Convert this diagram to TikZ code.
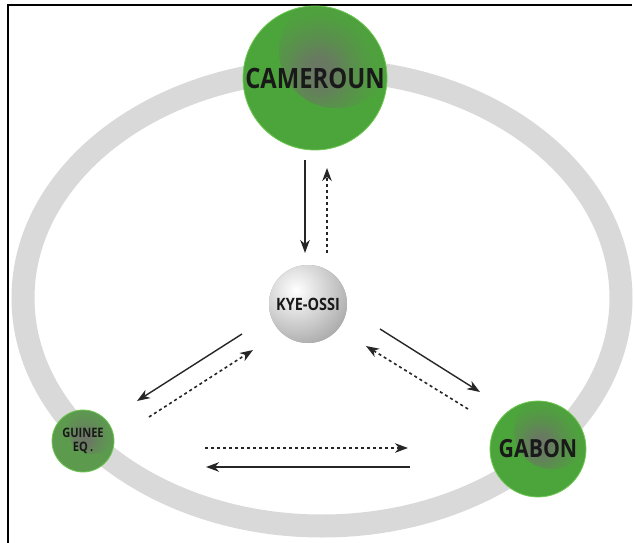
\documentclass[tikz,border=0pt]{standalone}
\usepackage{fontspec}
\newfontfamily\labelfont{Open Sans}[FakeStretch=0.85]
\usetikzlibrary{arrows.meta}

\definecolor{ringgray}{RGB}{217,217,217}
\definecolor{landgreen}{RGB}{76,165,58}
\definecolor{rimgreen}{RGB}{112,200,84}
\definecolor{darkgreen}{RGB}{92,155,78}
\definecolor{blotch}{RGB}{108,116,102}
\definecolor{hubgray}{RGB}{150,150,150}
\colorlet{spotouter}{landgreen}

\pgfdeclareradialshading[spotouter]{spot}{\pgfpoint{0bp}{0bp}}{%
  color(0bp)=(blotch); color(5bp)=(blotch!85!spotouter);
  color(11bp)=(blotch!45!spotouter); color(18bp)=(blotch!12!spotouter);
  color(25bp)=(spotouter)}

\tikzset{
  country/.style n args={2}{circle, minimum size=2*#1, inner sep=0pt, fill=#2,
    draw=rimgreen, line width=0.8pt, text=black!90,
    path picture={\colorlet{spotouter}{#2}\shade[shading=spot]
      ([xshift=0.3*#1, yshift=0.38*#1]path picture bounding box.center) circle (0.8*#1);}},
  hub/.style={circle, minimum size=78pt, inner sep=0pt, fill=hubgray,
    text=black!90, font=\labelfont\bfseries\fontsize{17}{17}\selectfont,
    path picture={\shade[inner color=white, outer color=hubgray]
      ([xshift=-12pt, yshift=14pt]path picture bounding box.center) circle (72pt);}},
  flow/.style={-{Stealth[length=13pt, width=9.5pt, inset=4pt]}, line width=1.4pt, black!85},
  backflow/.style={flow, line width=1.6pt, dash pattern=on 3pt off 3pt}
}

\begin{document}
\begin{tikzpicture}[x=1pt, y=-1pt]
    \useasboundingbox (0,0) rectangle (635,543);
    \fill[white] (0,0) rectangle (635,543);

    % frame and ring
    \draw[line width=2.2pt] (632,5) -- (8,5) -- (8,543);
    \draw[ringgray, line width=23pt] (322,298) ellipse [x radius=299, y radius=228];

    % Define places
    \node[country={72pt}{landgreen}, font=\labelfont\bfseries\fontsize{28}{28}\selectfont] (cam) at (315,78) {CAMEROUN};
    \node[hub] (kye) at (308,304) {KYE-OSSI};
    \node[country={31pt}{darkgreen}, align=center,
          font=\labelfont\bfseries\fontsize{13}{14}\selectfont] (gui) at (83,441) {GUINEE\\EQ\,.};
    \node[country={48pt}{landgreen}, font=\labelfont\bfseries\fontsize{25}{25}\selectfont] (gab) at (538,449) {GABON};

    % Define flow ends
    \coordinate (ck1) at (305,160); \coordinate (ck2) at (305,253);
    \coordinate (kc1) at (327,253); \coordinate (kc2) at (327,168);
    \coordinate (kg1) at (242,334); \coordinate (kg2) at (137,401);
    \coordinate (gk1) at (149,417); \coordinate (gk2) at (253,350);
    \coordinate (kb1) at (380,329); \coordinate (kb2) at (480,392);
    \coordinate (bk1) at (468,409); \coordinate (bk2) at (366,346);
    \coordinate (gb1) at (205,448); \coordinate (gb2) at (408,448);
    \coordinate (bg1) at (410,467); \coordinate (bg2) at (206,467);

    % Define flows
    \draw[flow] (ck1) -- (ck2);
    \draw[backflow] (kc1) -- (kc2);
    \draw[flow] (kg1) -- (kg2);
    \draw[backflow] (gk1) -- (gk2);
    \draw[flow] (kb1) -- (kb2);
    \draw[backflow] (bk1) -- (bk2);
    \draw[backflow] (gb1) -- (gb2);
    \draw[flow] (bg1) -- (bg2);
\end{tikzpicture}
\end{document}
